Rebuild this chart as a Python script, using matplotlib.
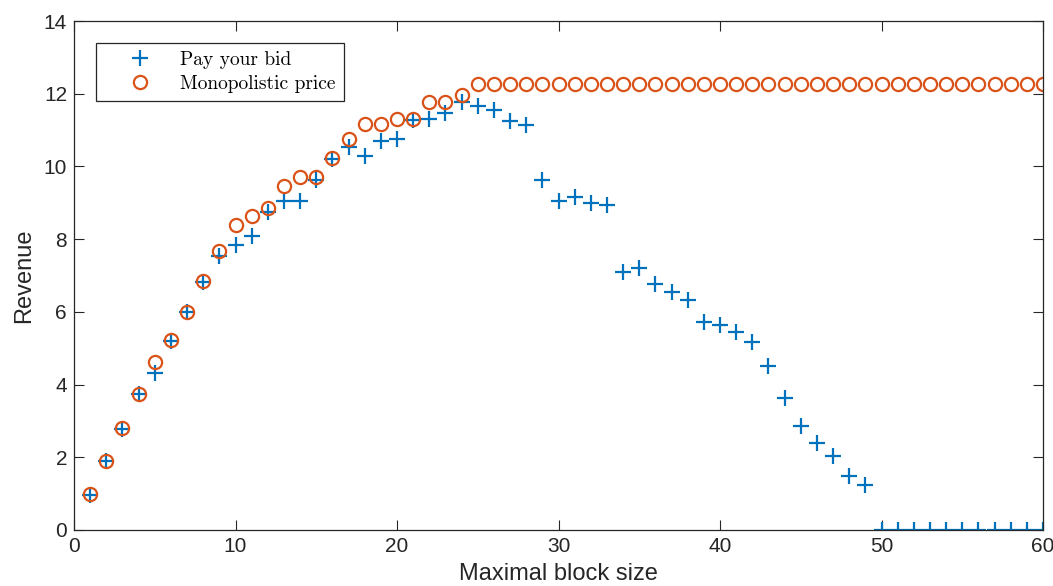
import numpy as np
import matplotlib.pyplot as plt

block = list(range(1, 61))

pay_bid = [0.97, 1.9, 2.79, 3.74, 4.33, 5.2, 6.0, 6.83, 7.55, 7.85,
           8.09, 8.76, 9.05, 9.05, 9.62, 10.2, 10.54, 10.29, 10.71, 10.77,
           11.28, 11.31, 11.48, 11.77, 11.67, 11.55, 11.25, 11.14, 9.64, 9.04,
           9.17, 8.99, 8.93, 7.09, 7.2, 6.78, 6.54, 6.32, 5.71, 5.64,
           5.46, 5.18, 4.51, 3.62, 2.85, 2.38, 2.03, 1.48, 1.24, 0,
           0, 0, 0, 0, 0, 0, 0, 0, 0, 0]

mono = [1.0, 1.9, 2.8, 3.74, 4.63, 5.23, 6.01, 6.84, 7.67, 8.39,
        8.64, 8.87, 9.46, 9.7, 9.72, 10.24, 10.77, 11.18, 11.18, 11.3,
        11.3, 11.78, 11.78, 11.97] + [12.27] * 36

plt.rcParams['font.family'] = ['Liberation Sans', 'DejaVu Sans']

fig = plt.figure(figsize=(10.53, 5.86), dpi=100)
ax = fig.add_axes([0.0703, 0.0956, 0.9202, 0.8684])

ax.plot(block, pay_bid, '+', color='#0072BD', markersize=12, markeredgewidth=1.6,
        label='Pay your bid')
ax.plot(block, mono, 'o', color='#D95319', markersize=9.5, markeredgewidth=1.6,
        markerfacecolor='none', label='Monopolistic price')

ax.set_xlim(0, 60)
ax.set_ylim(0, 14)
ax.set_xticks(range(0, 61, 10))
ax.set_yticks(range(0, 15, 2))
ax.tick_params(direction='in', top=True, right=True, labelsize=15, length=7,
               color='#262626', labelcolor='#262626', pad=5)
for s in ax.spines.values():
    s.set_color('#262626')
    s.set_linewidth(0.9)

ax.set_xlabel('Maximal block size', fontsize=17, color='#262626', labelpad=5)
ax.set_ylabel('Revenue', fontsize=17, color='#262626', labelpad=6)

leg = ax.legend(loc='upper left', bbox_to_anchor=(0.0227, 0.957), fancybox=False,
                edgecolor='#262626', framealpha=1, borderpad=0.42, handletextpad=0.2,
                handlelength=3.7, labelspacing=0.3, borderaxespad=0,
                prop={'family': 'cmr10', 'size': 14})
leg.get_frame().set_linewidth(0.9)

fig.savefig('out.png', dpi=100)
